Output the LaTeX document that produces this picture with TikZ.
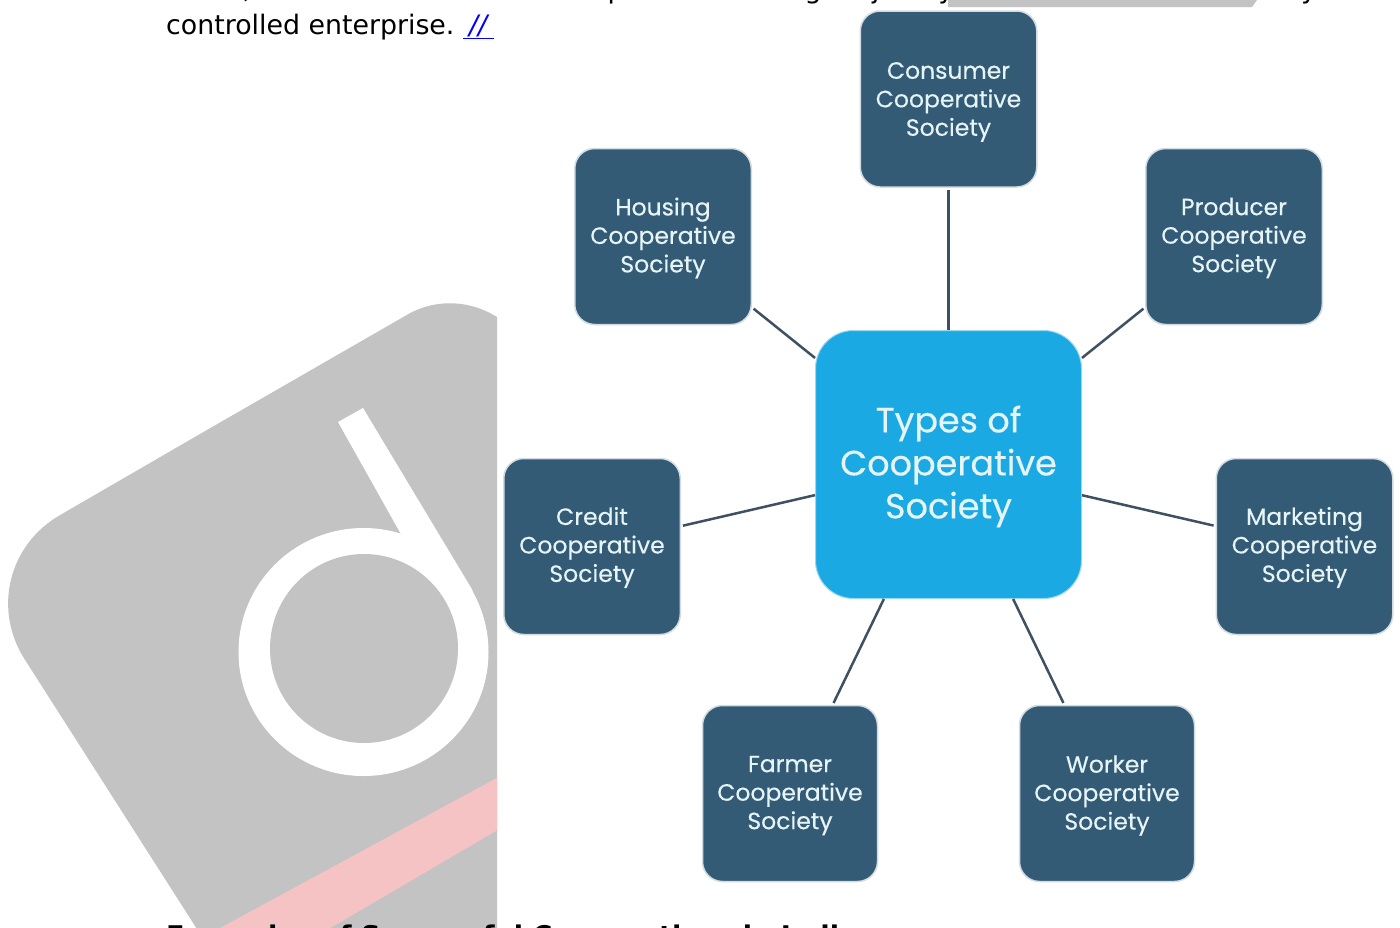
\documentclass[tikz,border=0pt]{standalone}
\usepackage{fontspec}
\setmainfont{DejaVu Sans}
\newfontfamily\boxfont[FakeBold=0.35]{Poppins}
\definecolor{boxblue}{HTML}{345B75}
\definecolor{hubblue}{HTML}{1BA9E4}
\definecolor{boxtext}{HTML}{E6F4F6}
\definecolor{linkgrey}{HTML}{3F5160}
\definecolor{wmgrey}{HTML}{C3C3C3}
\definecolor{wmpink}{HTML}{F6C3C4}
\tikzset{
  x=1pt,y=-1pt,
  leaf/.style={draw=boxblue!22,line width=1.5pt,fill=boxblue,rounded corners=20pt,minimum width=176.5pt,minimum height=176pt,inner sep=0pt},
  leaftext/.style={inner sep=0pt,align=center,text=boxtext,font=\boxfont\fontsize{23.5}{28.5}\selectfont},
  hub/.style={draw=hubblue!45,line width=1pt,fill=hubblue,rounded corners=38pt,minimum width=266pt,minimum height=268pt,inner sep=0pt},
  hubtext/.style={inner sep=0pt,align=center,text=boxtext,yshift=-2pt,font=\boxfont\fontsize{35}{43}\selectfont},
  spoke/.style={draw=linkgrey,line width=2.5pt,shorten >=2pt},
  body/.style={anchor=base west,inner sep=0pt,font=\fontsize{26.8}{36}\selectfont,text=black},
}
\begin{document}
\begin{tikzpicture}
\clip (0,0) rectangle (1400,927);
\fill[white] (0,0) rectangle (1400,927);
% watermark, cut by the white image panel
\begin{scope}
\clip (0,0) rectangle (497,927);
\fill[wmgrey] [rounded corners=107pt] (200,434) -- (-33,569) [rounded corners=60pt] -- (250,1012) -- (1000,1080) [rounded corners=81pt] -- (478,274) [sharp corners] -- cycle;
\fill[wmpink] (600,722) -- (150,966) -- (250,975) -- (600,770) -- cycle;
\fill[white] (338,422) -- (363,408) -- (473,591) -- (402,536) -- cycle;
\fill[white] (363.5,652) ellipse [x radius=125,y radius=124];
\fill[wmgrey] (364,648.5) ellipse [x radius=94,y radius=94.5];
\end{scope}
\fill[wmgrey] (948,0) -- (1257,0) -- (1252,7) -- (948,7) -- cycle;
% text
\node[body] (line1) at (166,-1.5) {social, and cultural needs and aspirations through a jointly owned and democratically};
\node[body] (line2) at (166,34) {controlled enterprise.\ {\color{blue}\underline{\hbox{\kern 6pt\textit{//}\kern 5pt}}}};
\node[body,font=\bfseries\fontsize{27.1}{36}\selectfont] (head) at (166,945) {Examples of Successful Cooperatives in India};
% diagram
\node[hub,label={[hubtext]center:{Types of\\Cooperative\\Society}}] (hub) at (948.5,464.5) {};
\node[leaf,label={[leaftext,yshift=-3pt]center:{Consumer\\Cooperative\\Society}}] (consumer) at (948.5,99) {};
\node[leaf,label={[leaftext,yshift=-1.5pt]center:{Housing\\Cooperative\\Society}}] (housing) at (663,236.5) {};
\node[leaf,label={[leaftext,yshift=-1.5pt]center:{Producer\\Cooperative\\Society}}] (producer) at (1234,236.5) {};
\node[leaf,label={[leaftext,yshift=-1pt]center:{Credit\\Cooperative\\Society}}] (credit) at (592,546.5) {};
\node[leaf,label={[leaftext,yshift=-1pt]center:{Marketing\\Cooperative\\Society}}] (marketing) at (1304.5,546.5) {};
\node[leaf,minimum width=175pt,label={[leaftext,yshift=-2pt]center:{Farmer\\Cooperative\\Society}}] (farmer) at (790,793.5) {};
\node[leaf,minimum width=175pt,label={[leaftext,yshift=-2pt]center:{Worker\\Cooperative\\Society}}] (worker) at (1107,793.5) {};
\draw[spoke,line width=3pt] (hub) -- (consumer);
\draw[spoke] (hub) -- (housing);
\draw[spoke] (hub) -- (producer);
\draw[spoke] (hub) -- (credit);
\draw[spoke] (hub) -- (marketing);
\draw[spoke] (hub) -- (farmer);
\draw[spoke] (hub) -- (worker);
\end{tikzpicture}
\end{document}
